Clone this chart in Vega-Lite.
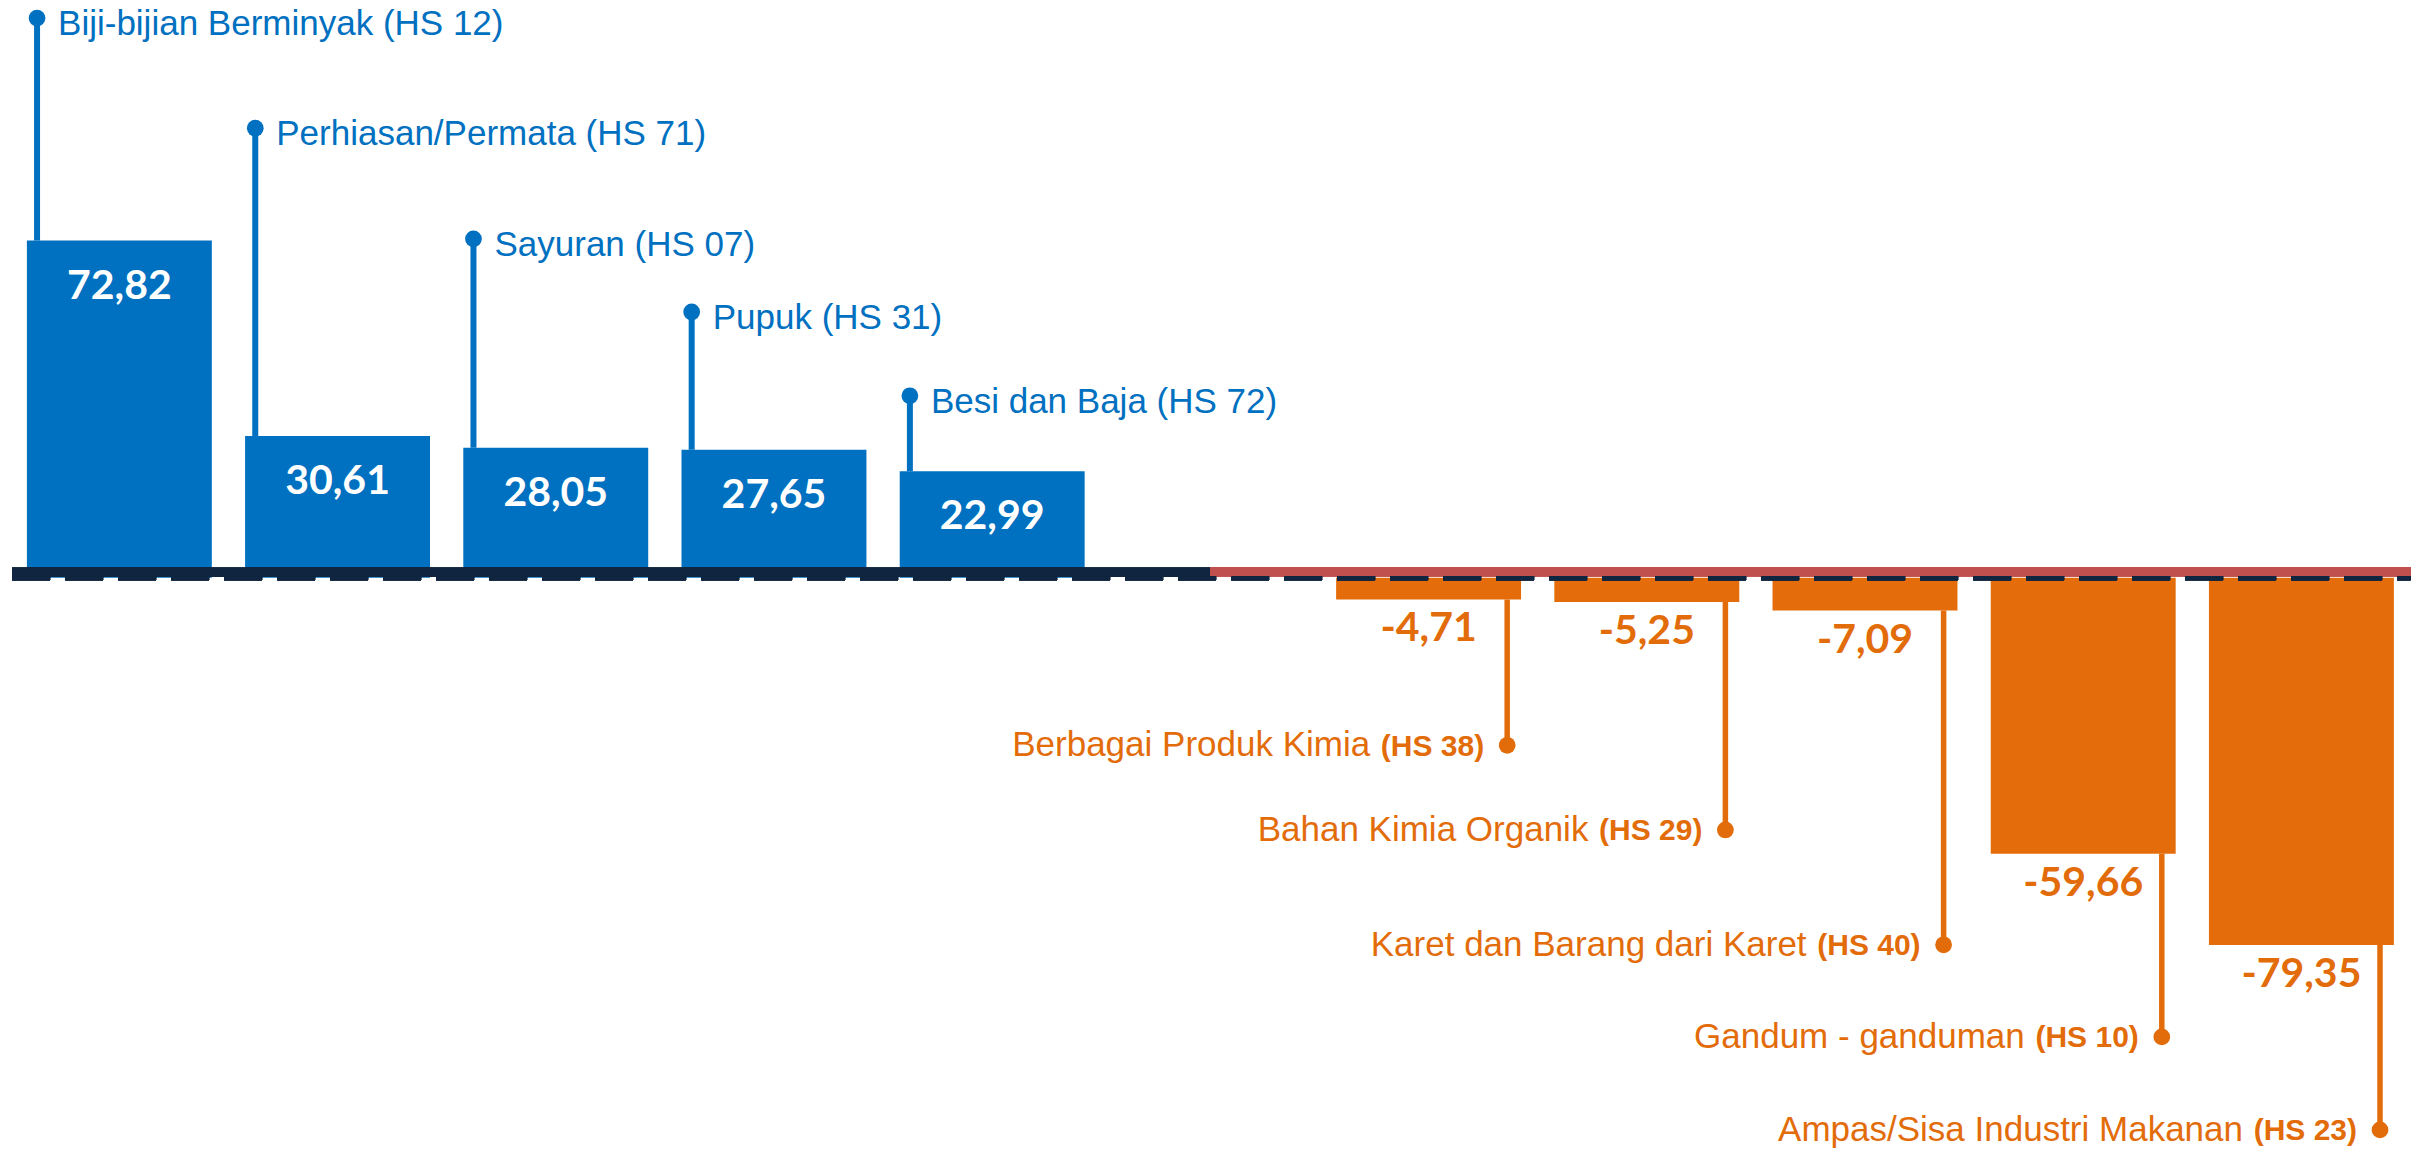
{
  "$schema": "https://vega.github.io/schema/vega-lite/v6.json",
  "width": 2416,
  "height": 1154,
  "autosize": {"type": "fit", "contains": "padding"},
  "padding": 0,
  "background": "white",
  "config": {
    "view": {"stroke": null},
    "locale": {"number": {"decimal": ",", "thousands": ".", "grouping": [3], "currency": ["", ""], "minus": "-"}}
  },
  "data": {
    "values": [
      {"kategori": "Biji-bijian Berminyak", "hs": "(HS 12)", "label": "Biji-bijian Berminyak (HS 12)", "nilai": 72.82, "ujung": 120.9},
      {"kategori": "Perhiasan/Permata", "hs": "(HS 71)", "label": "Perhiasan/Permata (HS 71)", "nilai": 30.61, "ujung": 97.1},
      {"kategori": "Sayuran", "hs": "(HS 07)", "label": "Sayuran (HS 07)", "nilai": 28.05, "ujung": 73.2},
      {"kategori": "Pupuk", "hs": "(HS 31)", "label": "Pupuk (HS 31)", "nilai": 27.65, "ujung": 57.4},
      {"kategori": "Besi dan Baja", "hs": "(HS 72)", "label": "Besi dan Baja (HS 72)", "nilai": 22.99, "ujung": 39.3},
      {"kategori": "Berbagai Produk Kimia", "hs": "(HS 38)", "label": "Berbagai Produk Kimia (HS 38)", "nilai": -4.71, "ujung": -36.2},
      {"kategori": "Bahan Kimia Organik", "hs": "(HS 29)", "label": "Bahan Kimia Organik (HS 29)", "nilai": -5.25, "ujung": -54.5},
      {"kategori": "Karet dan Barang dari Karet\u00a0", "hs": "(HS 40)", "label": "Karet dan Barang dari Karet  (HS 40)", "nilai": -7.09, "ujung": -79.3},
      {"kategori": "Gandum - ganduman", "hs": "(HS 10)", "label": "Gandum - ganduman (HS 10)", "nilai": -59.66, "ujung": -99.2},
      {"kategori": "Ampas/Sisa Industri Makanan", "hs": "(HS 23)", "label": "Ampas/Sisa Industri Makanan (HS 23)", "nilai": -79.35, "ujung": -119.3}
    ]
  },
  "layer": [
    {
      "mark": {"type": "bar"},
      "encoding": {
        "x": {
          "field": "kategori", "type": "nominal", "axis": null, "sort": null,
          "scale": {
            "domain": ["Biji-bijian Berminyak", "Perhiasan/Permata", "Sayuran", "Pupuk", "Besi dan Baja", " ", "Berbagai Produk Kimia", "Bahan Kimia Organik", "Karet dan Barang dari Karet\u00a0", "Gandum - ganduman", "Ampas/Sisa Industri Makanan"],
            "paddingInner": 0.1525, "paddingOuter": 0.11, "align": 0.56
          }
        },
        "y": {"field": "nilai", "type": "quantitative", "axis": null, "stack": null, "scale": {"domain": [-124.5, 124.8], "nice": false, "zero": false}},
        "color": {"condition": {"test": "datum.nilai > 0", "value": "#0070C0"}, "value": "#E46C0A"}
      }
    },
    {
      "mark": {"type": "rule", "color": "#10253F", "strokeWidth": 9, "yOffset": -5.5},
      "encoding": {
        "x": {"datum": "Biji-bijian Berminyak", "type": "nominal", "bandPosition": -0.08},
        "x2": {"datum": " ", "bandPosition": 0.5},
        "y": {"datum": 0, "type": "quantitative"}
      }
    },
    {
      "mark": {"type": "rule", "color": "#C0504D", "strokeWidth": 9, "yOffset": -6},
      "encoding": {
        "x": {"datum": " ", "type": "nominal", "bandPosition": 0.5},
        "x2": {"datum": "Ampas/Sisa Industri Makanan", "bandPosition": 1.09},
        "y": {"datum": 0, "type": "quantitative"}
      }
    },
    {
      "mark": {"type": "rule", "color": "#10253F", "strokeWidth": 4, "strokeDash": [38, 15], "yOffset": 0.5},
      "encoding": {
        "x": {"datum": "Biji-bijian Berminyak", "type": "nominal", "bandPosition": -0.08},
        "x2": {"datum": "Ampas/Sisa Industri Makanan", "bandPosition": 1.09},
        "y": {"datum": 0, "type": "quantitative"}
      }
    },
    {
      "transform": [{"filter": "datum.nilai > 0"}],
      "mark": {"type": "rule", "color": "#0070C0", "strokeWidth": 6},
      "encoding": {
        "x": {"field": "kategori", "type": "nominal", "bandPosition": 0.055},
        "y": {"field": "nilai", "type": "quantitative"},
        "y2": {"field": "ujung"}
      }
    },
    {
      "transform": [{"filter": "datum.nilai > 0"}],
      "mark": {"type": "circle", "color": "#0070C0", "size": 280, "opacity": 1},
      "encoding": {
        "x": {"field": "kategori", "type": "nominal", "bandPosition": 0.055},
        "y": {"field": "ujung", "type": "quantitative"}
      }
    },
    {
      "transform": [{"filter": "datum.nilai > 0"}],
      "mark": {"type": "text", "align": "left", "baseline": "middle", "dx": 21, "dy": 6, "font": "Liberation Sans", "fontSize": 35, "fill": "#0070C0"},
      "encoding": {
        "x": {"field": "kategori", "type": "nominal", "bandPosition": 0.055},
        "y": {"field": "ujung", "type": "quantitative"},
        "text": {"field": "label"}
      }
    },
    {
      "transform": [{"filter": "datum.nilai < 0"}],
      "mark": {"type": "rule", "color": "#E36C0A", "strokeWidth": 5.5},
      "encoding": {
        "x": {"field": "kategori", "type": "nominal", "bandPosition": 0.925},
        "y": {"field": "nilai", "type": "quantitative"},
        "y2": {"field": "ujung"}
      }
    },
    {
      "transform": [{"filter": "datum.nilai < 0"}],
      "mark": {"type": "circle", "color": "#E36C0A", "size": 280, "opacity": 1},
      "encoding": {
        "x": {"field": "kategori", "type": "nominal", "bandPosition": 0.925},
        "y": {"field": "ujung", "type": "quantitative"}
      }
    },
    {
      "transform": [{"filter": "datum.nilai < 0"}],
      "mark": {"type": "text", "align": "right", "baseline": "middle", "dx": -23, "dy": 1.5, "font": "Liberation Sans", "fontWeight": "bold", "fontSize": 30, "fill": "#E36C0A"},
      "encoding": {
        "x": {"field": "kategori", "type": "nominal", "bandPosition": 0.925},
        "y": {"field": "ujung", "type": "quantitative"},
        "text": {"field": "hs"}
      }
    },
    {
      "transform": [{"filter": "datum.nilai < 0"}],
      "mark": {"type": "text", "align": "right", "baseline": "middle", "dx": -137, "font": "Liberation Sans", "fontSize": 35, "fill": "#E36C0A"},
      "encoding": {
        "x": {"field": "kategori", "type": "nominal", "bandPosition": 0.925},
        "y": {"field": "ujung", "type": "quantitative"},
        "text": {"field": "kategori"}
      }
    },
    {
      "transform": [{"filter": "datum.nilai > 0"}],
      "mark": {"type": "text", "align": "center", "baseline": "middle", "dy": 46, "font": "Lato", "fontWeight": "bold", "fontSize": 41, "fill": "#FFFFFF"},
      "encoding": {
        "x": {"field": "kategori", "type": "nominal"},
        "y": {"field": "nilai", "type": "quantitative"},
        "text": {"field": "nilai", "type": "quantitative", "format": ".2f"}
      }
    },
    {
      "transform": [{"filter": "datum.nilai < 0"}],
      "mark": {"type": "text", "align": "center", "baseline": "middle", "dy": 30, "font": "Lato", "fontWeight": "bold", "fontSize": 41, "fill": "#E36C0A"},
      "encoding": {
        "x": {"field": "kategori", "type": "nominal"},
        "y": {"field": "nilai", "type": "quantitative"},
        "text": {"field": "nilai", "type": "quantitative", "format": ".2f"}
      }
    }
  ]
}
